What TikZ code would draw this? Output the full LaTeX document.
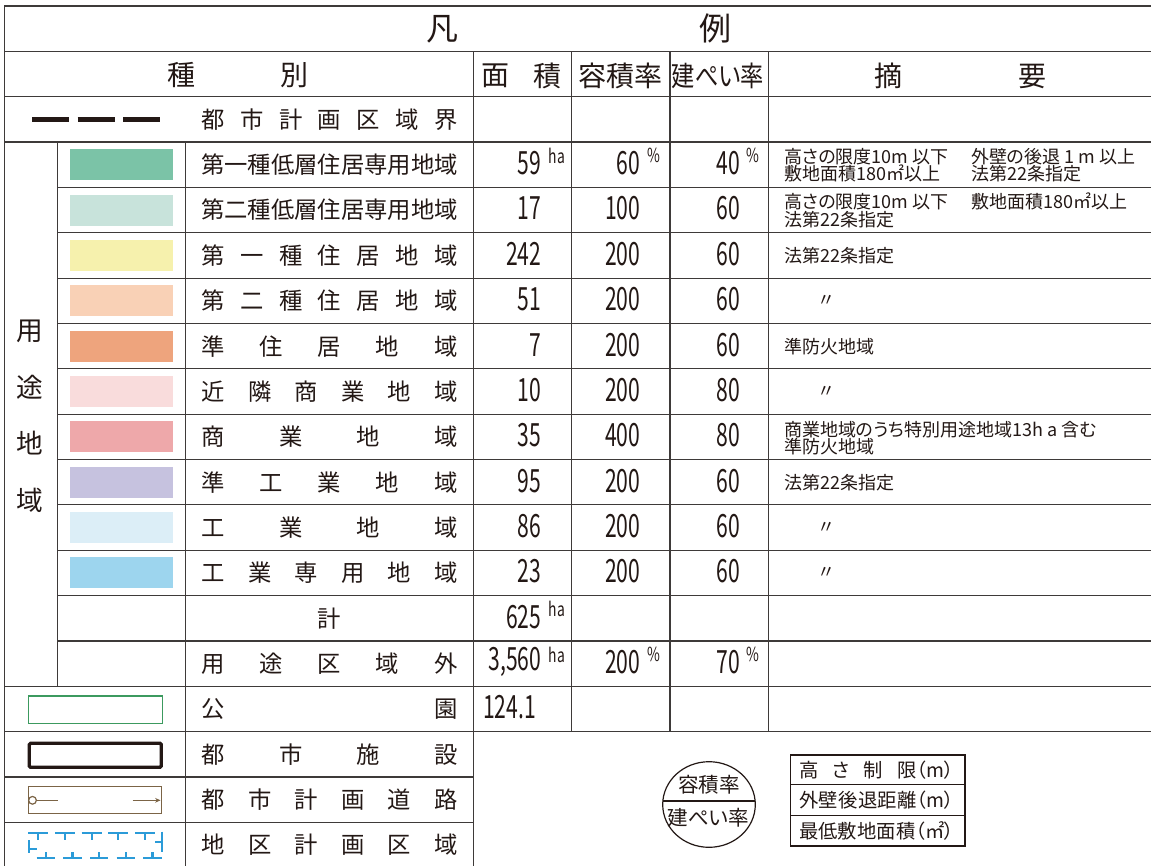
\documentclass[tikz,border=0pt]{standalone}
\usepackage{fontspec}
\usepackage{graphicx}
\setmainfont{Noto Sans CJK JP}
\newfontfamily\jp[RawFeature=+palt]{Noto Sans CJK JP}
\usetikzlibrary{shapes.geometric,arrows.meta}
\definecolor{txt}{HTML}{231815}
\definecolor{gridc}{HTML}{3E3A39}
\definecolor{ca}{HTML}{7BC3A7}
\definecolor{cb}{HTML}{C8E3DB}
\definecolor{cc}{HTML}{F6F1AD}
\definecolor{cd}{HTML}{F9D1B6}
\definecolor{ce}{HTML}{EEA47D}
\definecolor{cf}{HTML}{F9DCDC}
\definecolor{cg}{HTML}{EEA8AA}
\definecolor{ch}{HTML}{C6C2DF}
\definecolor{ci}{HTML}{DCEEF7}
\definecolor{cj}{HTML}{9DD5EE}
\definecolor{parkc}{HTML}{3C9A5F}
\definecolor{roadc}{HTML}{7B6446}
\definecolor{kblue}{HTML}{2B9BD8}
\newcommand\yc[1]{(28.675+45.35*(#1))}
\newcommand\nmbox[1]{\makebox[192pt]{#1}}
\newcommand\dg[1]{\scalebox{0.66}[1]{#1}}
\newcommand\sg[1]{\scalebox{0.72}[1]{#1}}
\tikzset{
  gl/.style={draw=gridc, line width=0.9pt},
  nmt/.style={inner sep=0pt, text=txt, font=\fontsize{17.5}{17.5}\selectfont},
  hdt/.style={inner sep=0pt, text=txt, font=\fontsize{21}{21}\selectfont},
  ttl/.style={inner sep=0pt, text=txt, font=\fontsize{24}{24}\selectfont},
  numt/.style={inner sep=0pt, text=txt, font=\fontsize{24}{24}\selectfont, anchor=east},
  supt/.style={inner sep=0pt, text=txt, font=\fontsize{14.5}{14.5}\selectfont, anchor=north west},
  rmk/.style={inner sep=0pt, text=txt, font=\jp\fontsize{13.5}{13.5}\selectfont, anchor=west},
  smt/.style={inner sep=0pt, text=txt, font=\jp\fontsize{15.4}{15.4}\selectfont},
  bxt/.style={inner sep=0pt, text=txt, font=\jp\fontsize{14.5}{14.5}\selectfont},
  swatch/.style={inner sep=0pt, minimum width=77.25pt, minimum height=23.25pt},
}
\begin{document}
\begin{tikzpicture}[x=0.75pt,y=-0.75pt]
\fill[white] (0,0) rectangle (1151,866);
\useasboundingbox (0,0) rectangle (1151,866);
% grid
\foreach \k in {0,1,2,3,15,16} \draw[gl] (4.3,{6+45.35*\k}) -- (1151,{6+45.35*\k});
\foreach \k in {4,...,14} \draw[gl] (57.3,{6+45.35*\k}) -- (1151,{6+45.35*\k});
\foreach \k in {17,18} \draw[gl] (4.3,{6+45.35*\k}) -- (473.3,{6+45.35*\k});
\draw[gl] (4.3,6) -- (4.3,866);
\draw[gl] (57.3,142.05) -- (57.3,686.25);
\draw[gl] (185.7,142.05) -- (185.7,866);
\draw[gl] (473.3,51.35) -- (473.3,866);
\foreach \x in {571.7,670,768.3} \draw[gl] (\x,51.35) -- (\x,731.6);
% title and header
\node[ttl] (t1) at (442.7,29.5) {凡};
\node[ttl] (t2) at (715.5,28) {例};
\node[hdt] (h1) at (181.7,75.5) {種};
\node[hdt] (h2) at (294.5,75.5) {別};
\node[hdt] (h3) at (495.7,75.5) {面};
\node[hdt] (h4) at (547,75.5) {積};
\node[hdt] (h5) at (620.8,75.5) {容積率};
\node[hdt] (h6) at (718,75.5) {\scalebox{0.83}[1]{\jp 建ぺい率}};
\node[hdt] (h7) at (888.6,76) {摘};
\node[hdt] (h8) at (1032.6,76) {要};
% city planning boundary
\foreach \x [count=\i] in {32.3,77.7,123.3} \draw[txt, line width=3.3pt] (\x,119.4) -- (\x+37,119.4);
\node[nmt] (n2) at (329.5,{\yc{2}}) {\nmbox{都\hfill 市\hfill 計\hfill 画\hfill 区\hfill 域\hfill 界}};
% use districts vertical label
\foreach \c/\y [count=\i] in {用/331.7,途/387.7,地/443.3,域/500} \node[inner sep=0pt, text=txt, font=\fontsize{20}{20}\selectfont] (v\i) at (30,\y) {\c};
% swatches and numbers
\foreach \r/\col/\a/\f/\b in {3/ca/59/60/40,4/cb/17/100/60,5/cc/242/200/60,6/cd/51/200/60,7/ce/7/200/60,8/cf/10/200/80,9/cg/35/400/80,10/ch/95/200/60,11/ci/86/200/60,12/cj/23/200/60}{
  \node[swatch, fill=\col] (sw\r) at (121.5,{\yc{\r}}) {};
  \node[numt] (ar\r) at (541.5,{\yc{\r}-1.5}) {\dg{\a}};
  \node[numt] (fr\r) at (640.5,{\yc{\r}-1.5}) {\dg{\f}};
  \node[numt] (br\r) at (740,{\yc{\r}-1.5}) {\dg{\b}};
}
\node[numt] (ar13) at (541.5,{\yc{13}-1.5}) {\dg{625}};
\node[numt] (ar14) at (541.5,{\yc{14}-1.5}) {\dg{3,560}};
\node[numt] (fr14) at (640.5,{\yc{14}-1.5}) {\dg{200}};
\node[numt] (br14) at (740,{\yc{14}-1.5}) {\dg{70}};
\node[numt, anchor=west] (ar15) at (483,{\yc{15}-1.5}) {\dg{124.1}};
\foreach \r in {3,13,14} \node[supt] (ha\r) at (548.5,{\yc{\r}-17}) {\sg{ha}};
\foreach \r in {3,14} {
  \node[supt] (pf\r) at (647,{\yc{\r}-16.5}) {\sg{\%}};
  \node[supt] (pb\r) at (746,{\yc{\r}-16.5}) {\sg{\%}};
}
% names
\node[nmt] (n3) at (329.5,{\yc{3}}) {\nmbox{第一種低層住居専用地域}};
\node[nmt] (n4) at (329.5,{\yc{4}}) {\nmbox{第二種低層住居専用地域}};
\node[nmt] (n5) at (329.5,{\yc{5}}) {\nmbox{第\hfill 一\hfill 種\hfill 住\hfill 居\hfill 地\hfill 域}};
\node[nmt] (n6) at (329.5,{\yc{6}}) {\nmbox{第\hfill 二\hfill 種\hfill 住\hfill 居\hfill 地\hfill 域}};
\node[nmt] (n7) at (329.5,{\yc{7}}) {\nmbox{準\hfill 住\hfill 居\hfill 地\hfill 域}};
\node[nmt] (n8) at (329.5,{\yc{8}}) {\nmbox{近\hfill 隣\hfill 商\hfill 業\hfill 地\hfill 域}};
\node[nmt] (n9) at (329.5,{\yc{9}}) {\nmbox{商\hfill 業\hfill 地\hfill 域}};
\node[nmt] (n10) at (329.5,{\yc{10}}) {\nmbox{準\hfill 工\hfill 業\hfill 地\hfill 域}};
\node[nmt] (n11) at (329.5,{\yc{11}}) {\nmbox{工\hfill 業\hfill 地\hfill 域}};
\node[nmt] (n12) at (329.5,{\yc{12}}) {\nmbox{工\hfill 業\hfill 専\hfill 用\hfill 地\hfill 域}};
\node[nmt] (n13) at (329.5,{\yc{13}}) {計};
\node[nmt] (n14) at (329.5,{\yc{14}}) {\nmbox{用\hfill 途\hfill 区\hfill 域\hfill 外}};
\node[nmt] (n15) at (329.5,{\yc{15}}) {\nmbox{公\hfill 園}};
\node[nmt] (n16) at (329.5,{\yc{16}}) {\nmbox{都\hfill 市\hfill 施\hfill 設}};
\node[nmt] (n17) at (329.5,{\yc{17}}) {\nmbox{都\hfill 市\hfill 計\hfill 画\hfill 道\hfill 路}};
\node[nmt] (n18) at (329.5,{\yc{18}}) {\nmbox{地\hfill 区\hfill 計\hfill 画\hfill 区\hfill 域}};
% remarks
\node[rmk] (r3a) at (784,156.7) {高さの限度10m 以下};
\node[rmk] (r3b) at (971,156.7) {外壁の後退 1 m 以上};
\node[rmk] (r3c) at (784,173.3) {敷地面積180㎡以上};
\node[rmk] (r3d) at (971,173.3) {法第22条指定};
\node[rmk] (r4a) at (784,201.7) {高さの限度10m 以下};
\node[rmk] (r4b) at (971,201.7) {敷地面積180㎡以上};
\node[rmk] (r4c) at (784,219.5) {法第22条指定};
\node[rmk] (r5) at (784,{\yc{5}}) {法第22条指定};
\node[rmk] (r7) at (784,{\yc{7}}) {準防火地域};
\node[rmk] (r9a) at (784,430) {商業地域のうち特別用途地域13h a 含む};
\node[rmk] (r9b) at (784,446.5) {準防火地域};
\node[rmk] (r10) at (784,{\yc{10}}) {法第22条指定};
\foreach \r in {6,8,11,12} \node[rmk, anchor=center] (dt\r) at (826,{\yc{\r}}) {〃};
% park, facility, road, district plan symbols
\draw[parkc, line width=1.1pt] (28.3,696) rectangle (162.3,723.3);
\draw[txt, line width=2.5pt, rounded corners=1pt] (29.3,743.3) rectangle (161.3,767.3);
\draw[roadc, line width=0.9pt] (28.3,786.7) rectangle (161.7,813.7);
\draw[roadc, line width=0.9pt] (36.3,800.3) -- (58.3,800.3);
\draw[roadc, fill=white, line width=0.9pt] (32.5,800.3) circle (2.9pt);
\draw[roadc, line width=0.9pt, -{Stealth[length=4pt,width=3.5pt]}] (132.7,800.3) -- (160.5,800.3);
\begin{scope}[kblue, line width=1.65pt]
  \foreach \x in {28.3,55,81.7,108.3,135} {
    \draw (\x,832.7) -- (\x+20,832.7);
    \draw (\x+10,832.7) -- (\x+10,840);
  }
  \foreach \x in {36.7,63.3,90,116.7,143.3} {
    \draw (\x,858.3) -- (\x+18.4,858.3);
    \draw (\x+9.2,858.3) -- (\x+9.2,851.7);
  }
  \draw (29,840) -- (29,853.3);
  \draw (29,849) -- (36.7,849);
  \draw (161.7,831.7) -- (161.7,851.7);
  \draw (155,842.3) -- (161.7,842.3);
\end{scope}
% key ellipse
\node[draw=txt, line width=0.9pt, ellipse, inner sep=0pt, minimum width=69.45pt, minimum height=64.2pt] (ell) at (709,804.5) {};
\draw[txt, line width=0.9pt] (662.9,801) -- (755.1,801);
\node[smt] (e1) at (709,785) {容積率};
\node[smt] (e2) at (708.5,818) {建ぺい率};
% key box
\draw[txt, line width=0.9pt] (790.7,755) rectangle (965,846);
\draw[txt, line width=0.9pt] (790.7,784.3) -- (965,784.3);
\draw[txt, line width=0.9pt] (790.7,815.7) -- (965,815.7);
\node[bxt] (k1) at (876.5,769.7) {\makebox[116.25pt]{高\hfill さ\hfill 制\hfill 限（m）}};
\node[bxt] (k2) at (876.5,800) {\makebox[116.25pt]{外\hfill 壁\hfill 後\hfill 退\hfill 距\hfill 離（m）}};
\node[bxt] (k3) at (876.5,830.9) {\makebox[116.25pt]{最\hfill 低\hfill 敷\hfill 地\hfill 面\hfill 積（㎡）}};
\end{tikzpicture}
\end{document}
